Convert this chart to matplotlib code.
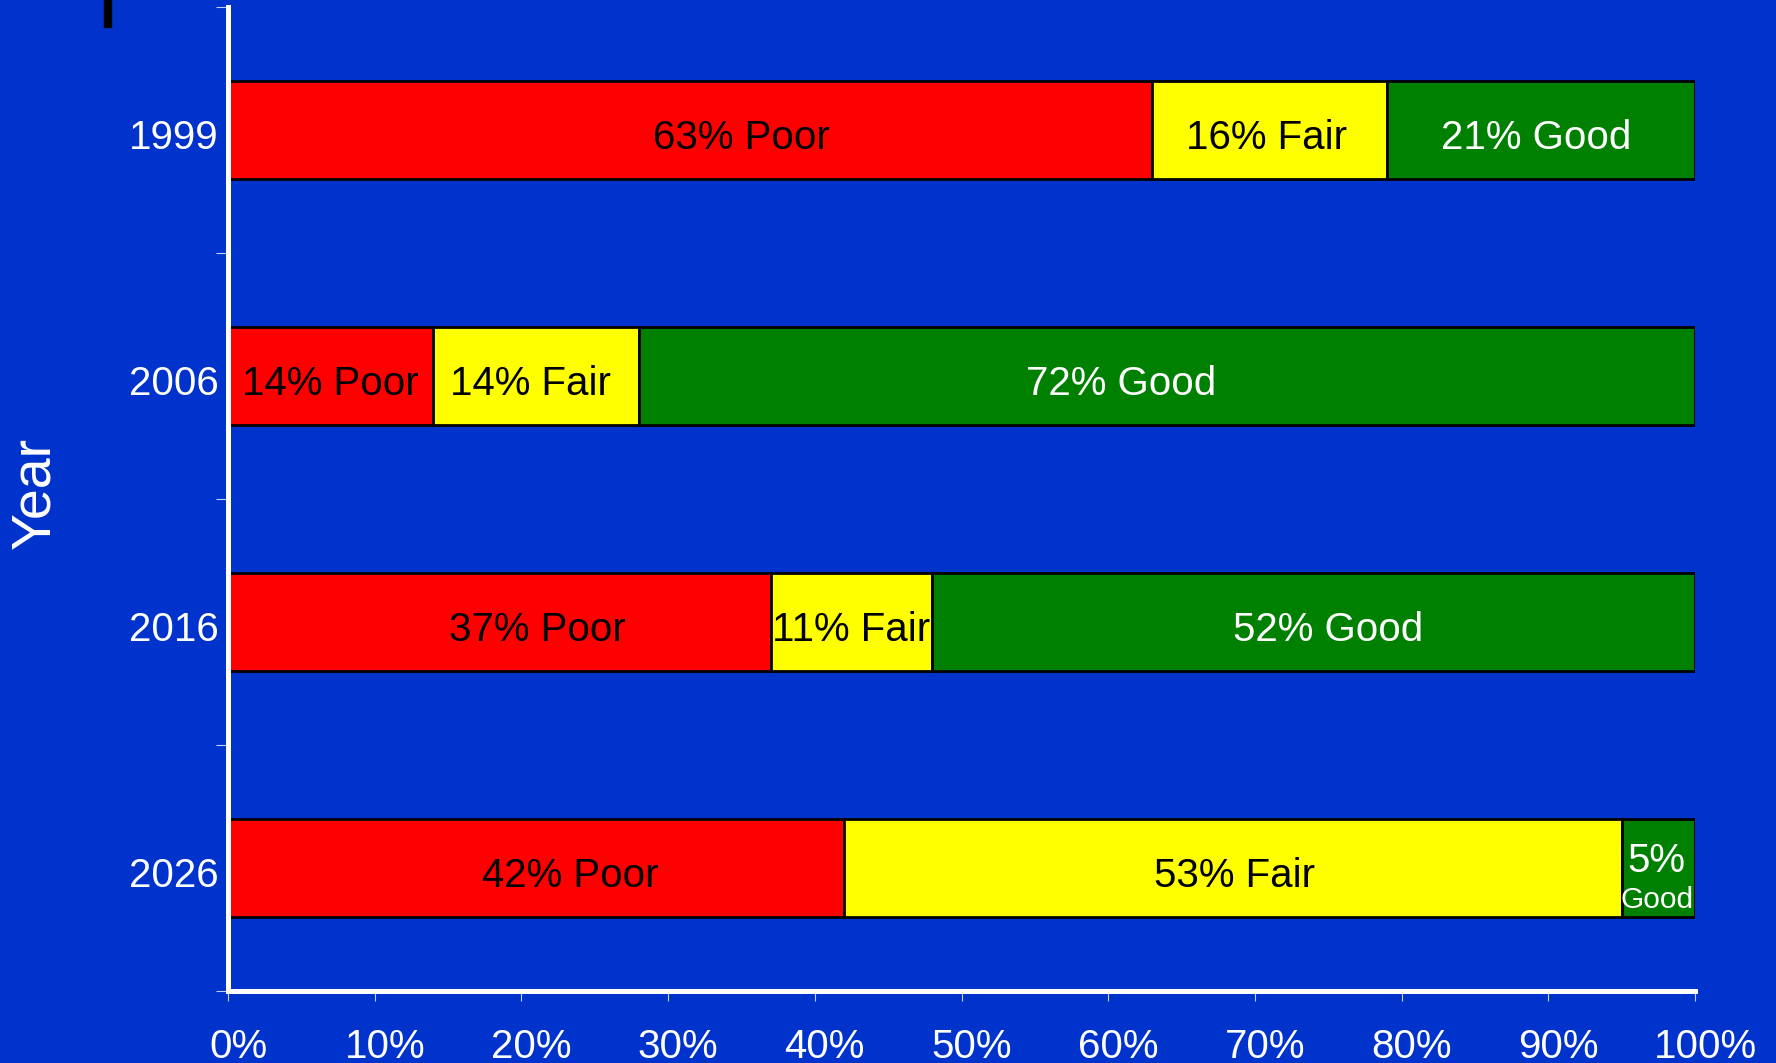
import matplotlib
matplotlib.use("Agg")
import matplotlib.pyplot as plt
from matplotlib.patches import Rectangle
from matplotlib.transforms import ScaledTranslation

plt.rcParams['font.family'] = ['Liberation Sans', 'DejaVu Sans']

# ---- data ----
years = ['1999', '2006', '2016', '2026']
poor = [63, 14, 37, 42]
fair = [16, 14, 11, 53]
good = [21, 72, 52, 5]
xtick_values = [0, 10, 20, 30, 40, 50, 60, 70, 80, 90, 100]
xtick_labels = ['0%', '10%', '20%', '30%', '40%', '50%', '60%', '70%', '80%', '90%', '100%']

# label placement (data units along x)
poor_label_x = [35.0, 7.0, 21.1, 23.3]
fair_label_x = [70.8, 20.6, 42.5, 68.6]
good_label_x = [89.2, 60.9, 75.0, 97.4]

BG = '#0033CC'
RED = '#FF0000'
YEL = '#FFFF00'
GRN = '#008000'

W, H = 1776, 1063
fig = plt.figure(figsize=(W / 100, H / 100), dpi=100)
fig.patch.set_facecolor(BG)
ax = fig.add_axes([228 / W, 1 - 991 / H, (1695 - 228) / W, (991 - 7) / H])
ax.set_facecolor(BG)

ypos = list(range(len(years)))
bh = 0.40
lefts_fair = [p for p in poor]
lefts_good = [p + f for p, f in zip(poor, fair)]
ax.barh(ypos, poor, height=bh, color=RED, edgecolor='black', linewidth=2)
ax.barh(ypos, fair, left=lefts_fair, height=bh, color=YEL, edgecolor='black', linewidth=2)
ax.barh(ypos, good, left=lefts_good, height=bh, color=GRN, edgecolor='black', linewidth=2)

fs = 29
down = ScaledTranslation(0, -4 / 100, fig.dpi_scale_trans)
tr = ax.transData + down
for i in ypos:
    ax.text(poor_label_x[i], i, f'{poor[i]}% Poor', ha='center', va='center_baseline',
            fontsize=fs, color='black', transform=tr)
    ax.text(fair_label_x[i], i, f'{fair[i]}% Fair', ha='center', va='center_baseline',
            fontsize=fs, color='black', transform=tr)
    if good[i] >= 10:
        ax.text(good_label_x[i], i, f'{good[i]}% Good', ha='center', va='center_baseline',
                fontsize=fs, color='white', transform=tr)
    else:
        ax.text(good_label_x[i], i - 0.06, f'{good[i]}%', ha='center', va='center_baseline',
                fontsize=fs, color='white', transform=tr)
        ax.text(good_label_x[i], i + 0.10, 'Good', ha='center', va='center_baseline',
                fontsize=21.5, color='white', transform=tr)

ax.set_xlim(0, 100)
ax.set_ylim(len(years) - 0.5, -0.5)

# spines
for s in ['top', 'right']:
    ax.spines[s].set_visible(False)
for s in ['left', 'bottom']:
    ax.spines[s].set_color('white')
    ax.spines[s].set_linewidth(3.6)
    ax.spines[s].set_capstyle('projecting')

# y ticks: labels at centres, tick marks between categories
ax.set_yticks(ypos)
ax.set_yticklabels(years)
ax.set_yticks([y - 0.5 for y in ypos] + [len(years) - 0.5], minor=True)
ax.tick_params(axis='y', which='major', length=0, pad=7, labelsize=fs, labelcolor='white')
ax.tick_params(axis='y', which='minor', length=8.5, width=0.8, color='#c8d0f0', direction='out')
for lab in ax.get_yticklabels():
    lab.set_transform(lab.get_transform() + down)

# x ticks
ax.set_xticks(xtick_values)
ax.set_xticklabels(xtick_labels)
ax.tick_params(axis='x', which='major', length=7, width=0.8, color='#c8d0f0',
               direction='out', pad=20, labelsize=fs, labelcolor='white')
off = ScaledTranslation(10 / 100, 0, fig.dpi_scale_trans)
for lab in ax.get_xticklabels():
    lab.set_transform(lab.get_transform() + off)

fig.text(35 / W, 1 - 493 / H, 'Year', rotation=90, ha='center', va='center',
         fontsize=40, color='white')

# small black mark at top-left
fig.patches.append(Rectangle((104 / W, 1 - 27 / H), 7 / W, 27 / H,
                             transform=fig.transFigure, color='black', zorder=5))

fig.savefig('out.png', dpi=100, facecolor=BG)
